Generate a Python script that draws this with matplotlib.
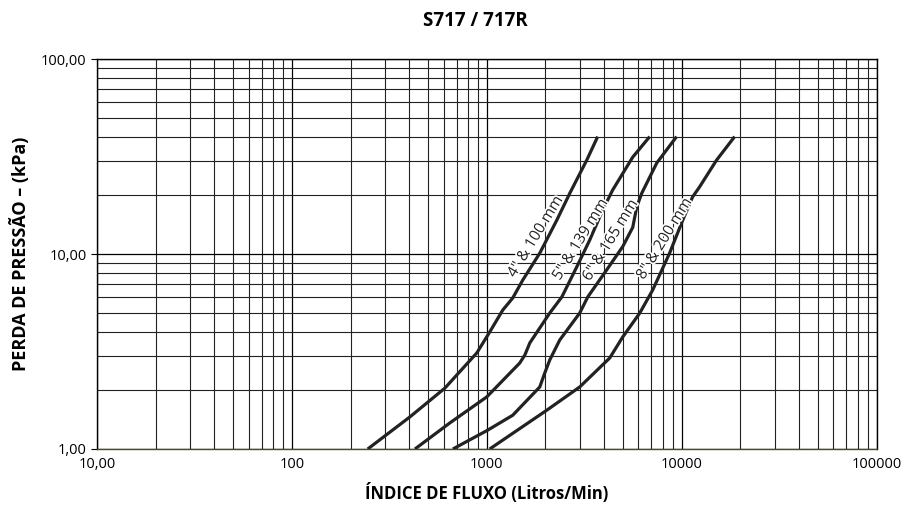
import matplotlib
matplotlib.use("Agg")
import matplotlib.pyplot as plt
import matplotlib.patheffects as pe
from matplotlib.ticker import LogLocator, FixedLocator, FixedFormatter, NullFormatter

plt.rcParams['font.family'] = ['Open Sans', 'DejaVu Sans']

# Flow (L/min) and pressure loss (kPa) for each size
flow_4 = [245, 403, 609, 889, 1035, 1208, 1359, 1531, 1870, 2286, 2667, 3258, 3707]
loss_4 = [1.0, 1.46, 2.05, 3.11, 3.98, 5.16, 5.95, 7.36, 10.1, 14.9, 20.5, 30.3, 40.0]

flow_5 = [428, 646, 1000, 1476, 1567, 1663, 2104, 2427, 2894, 3375, 3933, 4426, 5610, 6855]
loss_5 = [1.0, 1.36, 1.85, 2.76, 3.03, 3.50, 4.98, 6.02, 8.58, 11.8, 16.8, 21.3, 31.4, 40.0]

flow_6 = [670, 1012, 1359, 1870, 1983, 2104, 2367, 2998, 3296, 4120, 4980, 5610, 5877, 6240, 7450, 9420]
loss_6 = [1.0, 1.25, 1.49, 2.08, 2.45, 2.86, 3.62, 4.98, 6.02, 8.28, 10.9, 13.7, 17.4, 20.5, 29.3, 40.0]

flow_8 = [1035, 2030, 2998, 4275, 4980, 6095, 7096, 8670, 10120, 11370, 12360, 15100, 18700]
loss_8 = [1.0, 1.58, 2.08, 2.93, 3.75, 4.98, 6.53, 10.1, 14.9, 19.6, 22.1, 30.3, 40.0]

series_labels = ['4" & 100 mm', '5" & 139 mm', '6" & 165 mm', '8" & 200 mm']
label_pos = [(1783, 12.2), (3034, 11.8), (4325, 11.7), (8180, 11.9)]

x_ticks = [10, 100, 1000, 10000, 100000]
x_ticklabels = ['10,00', '100', '1000', '10000', '100000']
y_ticks = [1, 10, 100]
y_ticklabels = ['1,00', '10,00', '100,00']

fig = plt.figure(figsize=(9.15, 5.07), dpi=100)
ax = fig.add_axes([0.106, 0.1144, 0.852, 0.7692])
ax.set_xscale('log')
ax.set_yscale('log')
ax.set_xlim(10, 100000)
ax.set_ylim(1, 100)

ax.xaxis.set_major_locator(FixedLocator(x_ticks))
ax.xaxis.set_major_formatter(FixedFormatter(x_ticklabels))
ax.yaxis.set_major_locator(FixedLocator(y_ticks))
ax.yaxis.set_major_formatter(FixedFormatter(y_ticklabels))
ax.xaxis.set_minor_locator(LogLocator(base=10, subs=range(2, 10), numticks=20))
ax.yaxis.set_minor_locator(LogLocator(base=10, subs=range(2, 10), numticks=20))
ax.xaxis.set_minor_formatter(NullFormatter())
ax.yaxis.set_minor_formatter(NullFormatter())

ax.grid(True, which='major', color='black', linewidth=0.9)
ax.grid(True, which='minor', color='#222222', linewidth=0.8)
ax.set_axisbelow(True)
ax.tick_params(which='minor', length=0)
ax.tick_params(which='major', length=4, width=0.8, labelsize=10.5, color='black')
ax.tick_params(axis='x', which='major', length=0, pad=6)

for s in ax.spines.values():
    s.set_color('black')
    s.set_linewidth(1.0)
ax.spines['bottom'].set_color('#4a4a30')

curves = [(flow_4, loss_4), (flow_5, loss_5), (flow_6, loss_6), (flow_8, loss_8)]
for fx, ly in curves:
    ax.plot(fx, ly, color='#222222', linewidth=2.3, solid_capstyle='butt',
            solid_joinstyle='round', zorder=3)

for lab, (lx, ly) in zip(series_labels, label_pos):
    ax.text(lx, ly, lab, rotation=58.5, rotation_mode='anchor', ha='center', va='center',
            fontsize=11, color='#222222', zorder=4,
            path_effects=[pe.withStroke(linewidth=2.5, foreground='white')])

fig.text(0.520, 0.958, 'S717 / 717R', ha='center', va='center', fontsize=13.5, fontweight='bold')
ax.set_xlabel('ÍNDICE DE FLUXO (Litros/Min)', fontsize=12, fontweight='bold', labelpad=8)
ax.set_ylabel('PERDA DE PRESSÃO – (kPa)', fontsize=13, fontweight='bold', labelpad=8)

fig.savefig('out.png', dpi=100)
